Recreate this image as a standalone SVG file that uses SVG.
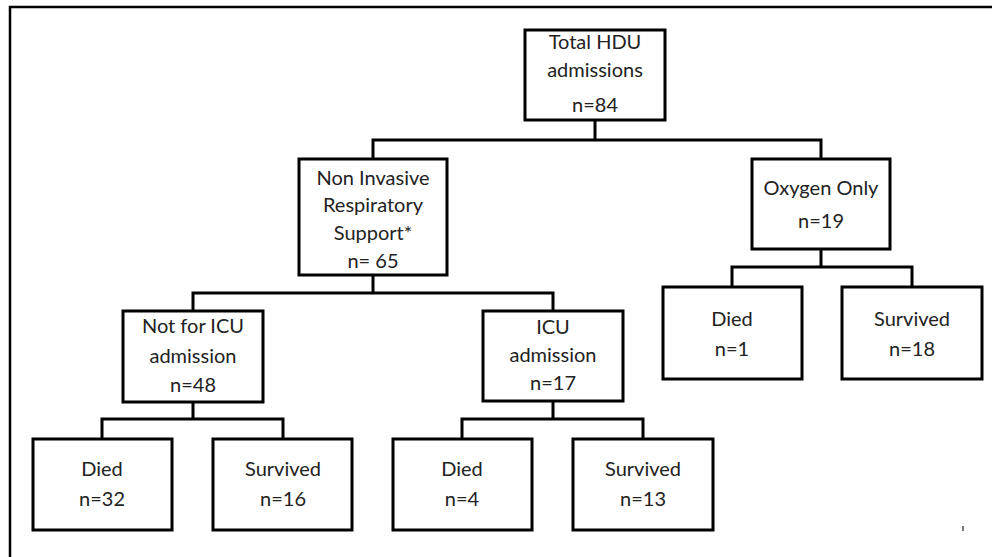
<svg xmlns="http://www.w3.org/2000/svg" width="992" height="557" viewBox="0 0 992 557">
<style>
.box{fill:#fff;stroke:#000;stroke-width:3}
.ln{fill:none;stroke:#000;stroke-width:3}
text{font-family:Lato,"Open Sans","Liberation Sans",sans-serif;font-size:20px;fill:#222;text-anchor:middle}
</style>
<rect width="992" height="557" fill="#fff"/>
<path d="M10,557 V7 H992" fill="none" stroke="#000" stroke-width="2.5"/>
<g id="connectors" class="ln">
<path d="M595,120 V140 M373,159 V140 H821 V159"/>
<path d="M373,275 V293 M193,311 V293 H553 V311"/>
<path d="M193,402 V419 M102,439 V419 H283 V439"/>
<path d="M553,401 V419 M462,439 V419 H643 V439"/>
<path d="M821,249 V267 M732,287 V267 H912 V287"/>
</g>
<g id="total"><rect class="box" x="525" y="30" width="140" height="90"/><text x="595" y="49">Total HDU</text><text x="595" y="77">admissions</text><text x="595" y="112">n=84</text></g>
<g id="nirs"><rect class="box" x="299" y="159" width="148" height="116"/><text x="373" y="185">Non Invasive</text><text x="373" y="212">Respiratory</text><text x="373" y="240">Support*</text><text x="373" y="268">n= 65</text></g>
<g id="oxygen"><rect class="box" x="752" y="159" width="138" height="90"/><text x="821" y="195">Oxygen Only</text><text x="821" y="228">n=19</text></g>
<g id="noticu"><rect class="box" x="123" y="311" width="140" height="91"/><text x="193" y="333">Not for ICU</text><text x="193" y="363">admission</text><text x="193" y="392">n=48</text></g>
<g id="icu"><rect class="box" x="483" y="311" width="140" height="90"/><text x="553" y="334">ICU</text><text x="553" y="362">admission</text><text x="553" y="390">n=17</text></g>
<g id="oxdied"><rect class="box" x="663" y="287" width="139" height="92"/><text x="732" y="326">Died</text><text x="732" y="356">n=1</text></g>
<g id="oxsurv"><rect class="box" x="842" y="287" width="140" height="92"/><text x="912" y="326">Survived</text><text x="912" y="356">n=18</text></g>
<g id="nidied"><rect class="box" x="33" y="439" width="139" height="91"/><text x="102" y="476">Died</text><text x="102" y="506">n=32</text></g>
<g id="nisurv"><rect class="box" x="213" y="439" width="139" height="91"/><text x="283" y="476">Survived</text><text x="283" y="506">n=16</text></g>
<g id="icudied"><rect class="box" x="393" y="439" width="139" height="91"/><text x="462" y="476">Died</text><text x="462" y="506">n=4</text></g>
<g id="icusurv"><rect class="box" x="573" y="439" width="140" height="91"/><text x="643" y="476">Survived</text><text x="643" y="506">n=13</text></g>
<rect x="962" y="526" width="2" height="5" fill="#777"/>
</svg>
